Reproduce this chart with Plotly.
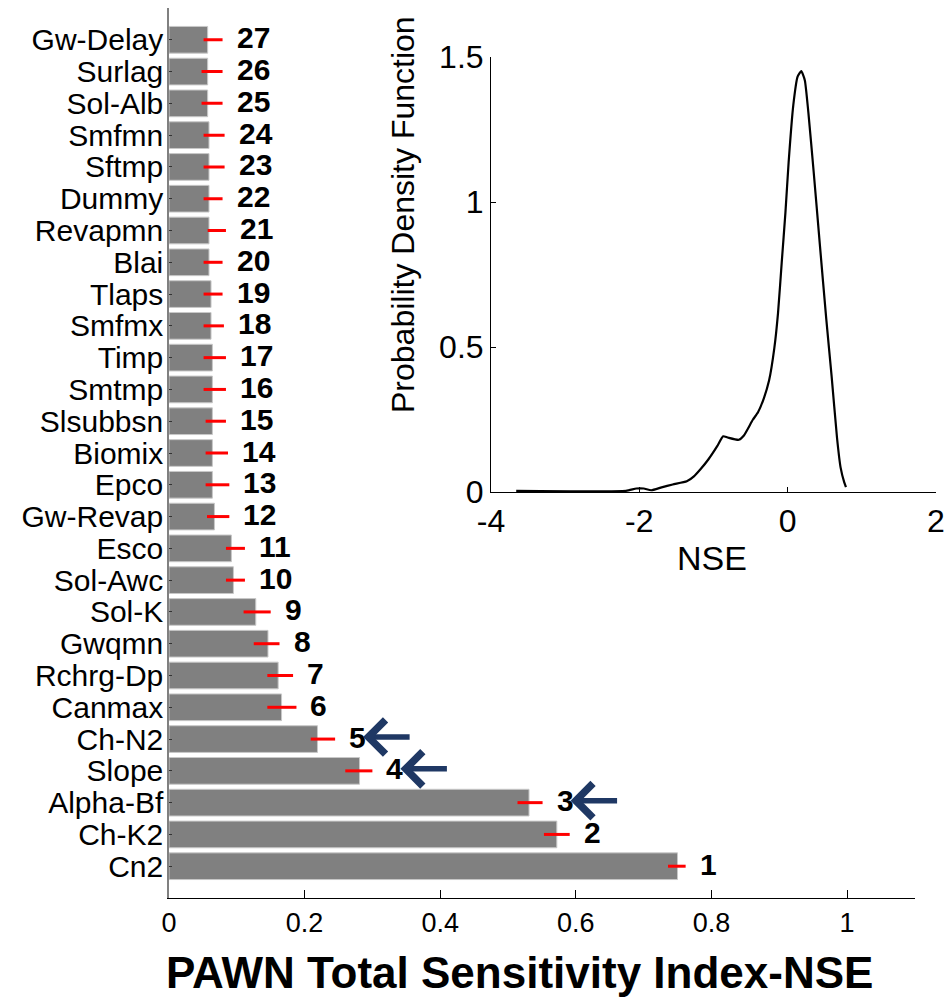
import plotly.graph_objects as go

# ---------------- data ----------------
# parameters ordered by rank (1 = most sensitive, bottom of chart)
param_names = ["Cn2", "Ch-K2", "Alpha-Bf", "Slope", "Ch-N2", "Canmax", "Rchrg-Dp",
               "Gwqmn", "Sol-K", "Sol-Awc", "Esco", "Gw-Revap", "Epco", "Biomix",
               "Slsubbsn", "Smtmp", "Timp", "Smfmx", "Tlaps", "Blai", "Revapmn",
               "Dummy", "Sftmp", "Smfmn", "Sol-Alb", "Surlag", "Gw-Delay"]
ranks = list(range(1, 28))
sens_index = [0.750, 0.572, 0.531, 0.281, 0.219, 0.166, 0.161, 0.146, 0.128, 0.095,
              0.092, 0.067, 0.064, 0.064, 0.064, 0.064, 0.064, 0.062, 0.062, 0.059,
              0.059, 0.059, 0.059, 0.059, 0.057, 0.057, 0.057]
ci_low = [0.736, 0.553, 0.514, 0.260, 0.209, 0.145, 0.145, 0.125, 0.110, 0.084,
          0.084, 0.056, 0.054, 0.054, 0.054, 0.051, 0.051, 0.051, 0.051, 0.051,
          0.057, 0.051, 0.051, 0.051, 0.048, 0.048, 0.051]
ci_high = [0.762, 0.591, 0.551, 0.300, 0.245, 0.188, 0.183, 0.163, 0.150, 0.112,
           0.112, 0.089, 0.089, 0.087, 0.084, 0.084, 0.084, 0.081, 0.079, 0.079,
           0.084, 0.079, 0.082, 0.082, 0.079, 0.079, 0.079]
highlighted_ranks = [3, 4, 5]
x_ticks = [0, 0.2, 0.4, 0.6, 0.8, 1]
x_tick_labels = ["0", "0.2", "0.4", "0.6", "0.8", "1"]

# inset: probability density function of NSE
nse_x = [-3.66, -2.18, -2.04, -1.94, -1.84, -1.70, -1.55, -1.36, -1.26, -1.17, -1.07,
         -0.95, -0.87, -0.81, -0.66, -0.59, -0.47, -0.40, -0.32, -0.25, -0.18, -0.13,
         -0.08, -0.03, 0.013, 0.076, 0.134, 0.183, 0.231, 0.279, 0.352, 0.434, 0.521,
         0.593, 0.665, 0.714, 0.762, 0.786]
pdf_y = [0.004, 0.004, 0.012, 0.012, 0.006, 0.016, 0.026, 0.037, 0.055, 0.080, 0.112,
         0.158, 0.192, 0.188, 0.180, 0.195, 0.249, 0.275, 0.324, 0.385, 0.496, 0.617,
         0.792, 0.964, 1.137, 1.334, 1.432, 1.451, 1.420, 1.309, 1.100, 0.853, 0.595,
         0.398, 0.188, 0.084, 0.034, 0.017]
inset_x_ticks = [-4, -2, 0, 2]
inset_x_labels = ["-4", "-2", "0", "2"]
inset_y_ticks = [0, 0.5, 1, 1.5]
inset_y_labels = ["0", "0.5", "1", "1.5"]

# ---------------- figure ----------------
W, H = 949, 998
fig = go.Figure()

fig.add_trace(go.Bar(
    x=sens_index, y=param_names, orientation="h",
    marker=dict(color="#808080", line=dict(color="#c8c8c8", width=1)),
    width=0.84, xaxis="x", yaxis="y", showlegend=False))

seg_x, seg_y = [], []
for lo, hi, nm in zip(ci_low, ci_high, param_names):
    seg_x += [lo, hi, None]
    seg_y += [nm, nm, None]
fig.add_trace(go.Scatter(x=seg_x, y=seg_y, mode="lines",
                         line=dict(color="#ff0000", width=3),
                         xaxis="x", yaxis="y", showlegend=False))

fig.add_trace(go.Scatter(x=nse_x, y=pdf_y, mode="lines",
                         line=dict(color="black", width=2.2, shape="spline", smoothing=0.5),
                         xaxis="x2", yaxis="y2", showlegend=False))

annotations = []
for rk, hi, nm in zip(ranks, ci_high, param_names):
    annotations.append(dict(x=hi, y=nm, xref="x", yref="y", text=str(rk),
                            showarrow=False, xanchor="left", yanchor="middle",
                            xshift=12, yshift=2,
                            font=dict(family="Liberation Sans", size=30, color="black",
                                      weight="bold")))
    if rk in highlighted_ranks:
        annotations.append(dict(x=hi, y=nm, xref="x", yref="y", text="",
                                showarrow=True, ax=48, ay=0, xshift=28, yshift=2,
                                arrowhead=4, arrowsize=1.2, arrowwidth=5.5,
                                arrowcolor="#1f3864"))

annotations.append(dict(x=519 / W, y=1 - 972 / H, xref="paper", yref="paper",
                        text="<b>PAWN Total Sensitivity Index-NSE</b>", showarrow=False,
                        xanchor="center", yanchor="middle",
                        font=dict(family="Liberation Sans", size=44, color="black")))
annotations.append(dict(x=403 / W, y=1 - 215 / H, xref="paper", yref="paper",
                        text="Probability Density Function", textangle=-90, showarrow=False,
                        xanchor="center", yanchor="middle",
                        font=dict(family="Liberation Sans", size=32, color="black")))
annotations.append(dict(x=712 / W, y=1 - 558 / H, xref="paper", yref="paper",
                        text="NSE", showarrow=False, xanchor="center", yanchor="middle",
                        font=dict(family="Liberation Sans", size=34, color="black")))

fig.update_layout(
    template="none",
    width=W, height=H, margin=dict(l=0, r=0, t=0, b=0, pad=0, autoexpand=False),
    paper_bgcolor="white", plot_bgcolor="rgba(0,0,0,0)",
    font=dict(family="Liberation Sans", color="black"),
    showlegend=False,
    xaxis=dict(domain=[169 / W, 914.8 / W], range=[0, 1.1], anchor="y",
               tickmode="array", tickvals=x_ticks, ticktext=x_tick_labels,
               ticks="inside", ticklen=8, tickcolor="black", showline=True,
               linecolor="black", linewidth=1, showgrid=False, zeroline=False,
               tickfont=dict(size=27), ticklabelstandoff=1, automargin=False),
    yaxis=dict(domain=[1 - 898 / H, 1 - 8 / H], range=[-1, 27], anchor="x",
               type="category", categoryorder="array", categoryarray=param_names,
               tickmode="array", tickvals=param_names, ticktext=param_names,
               ticks="inside", ticklen=3, tickcolor="#333", showline=True,
               linecolor="#808080", linewidth=1.5, showgrid=False, zeroline=False,
               tickfont=dict(size=30), ticklabelstandoff=-2, automargin=False),
    xaxis2=dict(domain=[491 / W, 936 / W], range=[-4, 2], anchor="y2",
                tickmode="array", tickvals=inset_x_ticks, ticktext=inset_x_labels,
                ticks="inside", ticklen=5, tickcolor="black",
                showline=True, linecolor="black", linewidth=1, showgrid=False,
                zeroline=False, tickfont=dict(size=32), ticklabelstandoff=1,
                automargin=False),
    yaxis2=dict(domain=[1 - 492 / H, 1 - 57 / H], range=[0, 1.5], anchor="x2",
                tickmode="array", tickvals=inset_y_ticks, ticktext=inset_y_labels,
                ticks="inside", ticklen=5, tickcolor="black", showline=True,
                linecolor="black", linewidth=1, showgrid=False, zeroline=False,
                tickfont=dict(size=32), ticklabelstandoff=0, automargin=False),
    annotations=annotations,
)

fig.write_html("out.html",
               post_script="document.body.style.margin='0';document.body.style.padding='0';")
